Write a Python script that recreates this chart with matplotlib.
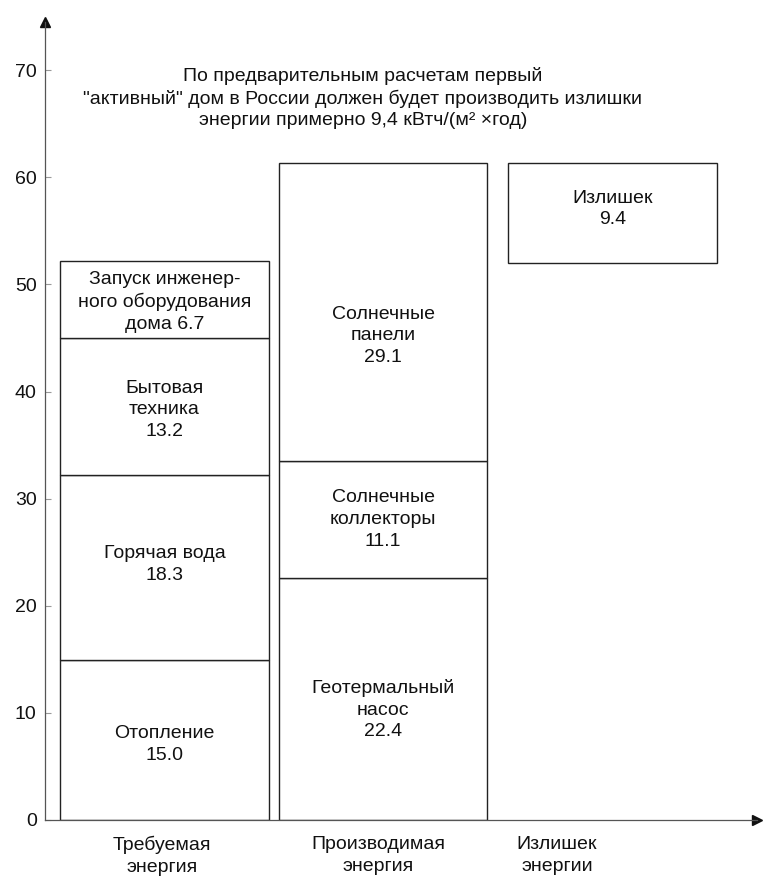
import numpy as np
import matplotlib
matplotlib.use('Agg')
import matplotlib.pyplot as plt

plt.rcParams['font.family'] = ['Liberation Sans', 'DejaVu Sans']

# Categories along the x axis
categories = ['Требуемая\nэнергия', 'Производимая\nэнергия', 'Излишек\nэнергии']

# Segment heights as drawn (kWh/(m2*year)), bottom to top
required_heights = [14.9, 17.3, 12.8, 7.2]
required_labels = ['Отопление\n15.0', 'Горячая вода\n18.3', 'Бытовая\nтехника\n13.2',
                   'Запуск инженер-\nного оборудования\nдома 6.7']
produced_heights = [22.6, 10.9, 27.8]
produced_labels = ['Геотермальный\nнасос\n22.4', 'Солнечные\nколлекторы\n11.1',
                   'Солнечные\nпанели\n29.1']
surplus_base = 52.0
surplus_height = 9.3
surplus_label = 'Излишек\n9.4'

yticks = [0, 10, 20, 30, 40, 50, 60, 70]
note = ('По предварительным расчетам первый\n'
        '"активный" дом в России должен будет производить излишки\n'
        'энергии примерно 9,4 кВтч/(м² ×год)')

fig = plt.figure(figsize=(7.63, 8.77), dpi=100)
ax = fig.add_axes([45 / 763, 57 / 877, 712 / 763, 798 / 877])

edge = '#222222'
width = 0.935
font = 14
ink = '#111111'
spacing = 1.35


def stack(ax, x, heights, labels, shifts, base=0.0):
    bottom = base
    for h, lab, dy in zip(heights, labels, shifts):
        ax.bar(x, h, width=width, bottom=bottom, color='white',
               edgecolor=edge, linewidth=1.0)
        ax.text(x, bottom + h / 2 + dy, lab, ha='center', va='center',
                fontsize=font, linespacing=spacing, color=ink)
        bottom += h


stack(ax, 0, required_heights, required_labels, [-0.4, 0.3, -0.3, -0.2])
stack(ax, 1 - 0.02, produced_heights, produced_labels, [-1.0, 0.0, -2.2])
stack(ax, 2 + 0.01, [surplus_height], [surplus_label], [0.4], base=surplus_base)

ax.set_xlim(-0.536, 2.657)
ax.set_ylim(0, 74.5)

for side in ['top', 'right']:
    ax.spines[side].set_visible(False)
for side in ['left', 'bottom']:
    ax.spines[side].set_color('#555555')
    ax.spines[side].set_linewidth(0.9)

# axis arrows
ax.plot(0, 1, '^', color=ink, markersize=7, transform=ax.transAxes, clip_on=False)
ax.plot(1, 0, '>', color=ink, markersize=7, transform=ax.transAxes, clip_on=False)

ax.set_yticks(yticks)
ax.set_yticklabels([str(t) for t in yticks], fontsize=font, color=ink)
ax.tick_params(axis='y', direction='in', length=4, pad=6, color='#999999')
ax.set_xticks([])

# category labels under the axis
offsets = [-0.01, -0.04, -0.24]
for i, (cat, off) in enumerate(zip(categories, offsets)):
    ax.text(i + off, -1.5, cat, ha='center', va='top', fontsize=font,
            linespacing=spacing, color=ink, clip_on=False)

ax.text(0.89, 67.4, note, ha='center', va='center', fontsize=font,
        linespacing=spacing, color=ink)

fig.savefig('out.png', dpi=100)
